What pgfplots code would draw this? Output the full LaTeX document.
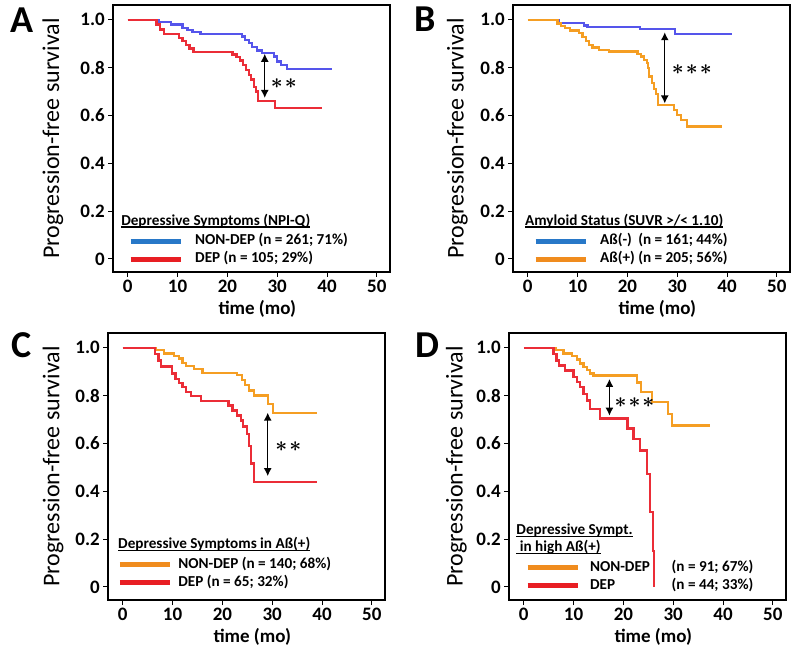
\documentclass[border=0pt]{standalone}
\usepackage{fontspec}
\setmainfont{Carlito}
\usepackage{bm}
\usepackage{pgfplots}
\pgfplotsset{compat=1.18}
\usetikzlibrary{arrows.meta}

\definecolor{cblue}{RGB}{85,85,235}
\definecolor{lblue}{RGB}{40,120,200}
\definecolor{cred}{RGB}{235,45,55}
\definecolor{lred}{RGB}{232,30,35}
\definecolor{corange}{RGB}{245,158,35}
\definecolor{lorange}{RGB}{240,140,30}

\newcommand\ul[1]{\setbox0\hbox{#1}\rlap{\rule[-2.6pt]{\wd0}{1.2pt}}\box0}
\newcommand\legfont{\fontsize{15.2}{17}\selectfont\bfseries}
\newcommand\st{$\bm{\ast}$}
\newcommand\stars[1]{\fontsize{21}{21}\selectfont#1}
\tikzset{dbl/.style={{Latex[length=8pt,width=8pt]}-{Latex[length=8pt,width=8pt]}, line width=1.4pt}}

\pgfplotsset{
  km/.style={
    width=277pt, height=267pt, scale only axis,
    xmin=-2.9, xmax=52.7, ymin=-0.055, ymax=1.062,
    xtick={0,10,20,30,40,50},
    ytick={0,0.2,0.4,0.6,0.8,1},
    yticklabels={0,0.2,0.4,0.6,0.8,1.0},
    tick align=outside, xtick pos=bottom, ytick pos=left,
    major tick length=5pt,
    axis line style={line width=2.2pt},
    every tick/.style={black, line width=1pt},
    ticklabel style={font=\fontsize{19}{19}\selectfont\bfseries},
    /pgf/number format/assume math mode=true,
    xlabel={time (mo)},
    xlabel style={font=\fontsize{19}{19}\selectfont\bfseries, at={(axis description cs:0.52,-0.14)}, anchor=center},
    ylabel={Progression-free survival},
    ylabel style={font=\fontsize{24}{24}\selectfont, anchor=center},
    legend image code/.code={\draw[line width=5pt] (0pt,0pt) -- (50pt,0pt);},
    legend style={draw=none, fill=none, inner sep=0pt, row sep=2.5pt, column sep=12pt,
      font=\legfont, nodes={inner sep=0pt, text height=11.5pt, text depth=4pt}},
    legend cell align=left,
    curve/.style={const plot mark left, line width=2.3pt, forget plot},
  }
}

\begin{document}
\begin{tikzpicture}
\path[use as bounding box] (0,0) rectangle (800pt,656pt);

% ---------------- A ----------------
\begin{axis}[km, at={(113.3pt,384pt)}, anchor=south west,
  ylabel style={at={(axis description cs:-0.218,0.5)}},
  legend style={at={(axis description cs:0.053,0.082)}, anchor=west}]
\addplot[curve, cblue] coordinates {
(0,1) (6.2,0.99) (8.7,0.98) (11.0,0.967) (12.0,0.957) (13.0,0.948) (14.6,0.941)
(22.9,0.93) (23.6,0.916) (24.3,0.902) (24.9,0.886) (25.9,0.872) (26.9,0.862)
(29.3,0.846) (30.0,0.826) (30.7,0.81) (32.0,0.794) (41.0,0.794)};
\addplot[curve, cred] coordinates {
(0,1) (5.8,0.98) (6.5,0.96) (7.3,0.94) (10.3,0.925) (11.0,0.91) (11.7,0.895)
(12.4,0.88) (13.2,0.865) (21.0,0.855) (21.8,0.845) (22.5,0.83) (23.2,0.81)
(23.8,0.79) (24.3,0.77) (24.8,0.75) (25.3,0.72) (25.7,0.70) (26.1,0.66)
(29.6,0.63) (39.0,0.63)};
\addlegendimage{lblue}
\addlegendentry{NON-DEP (n = 261; 71\%)}
\addlegendimage{lred}
\addlegendentry{DEP (n = 105; 29\%)}
\draw[dbl] (axis cs:27.5,0.858) -- (axis cs:27.5,0.673);
\node[anchor=west, inner sep=0] at (axis cs:28.7,0.735) {\stars{\st\hspace{2pt}\st}};
\node[anchor=base west, inner sep=0, font=\legfont] at (axis description cs:0.028,0.176) {\ul{Depressive Symptoms (NPI-Q)}};
\end{axis}

% ---------------- B ----------------
\begin{axis}[km, at={(513.3pt,384pt)}, anchor=south west,
  ylabel style={at={(axis description cs:-0.202,0.5)}},
  legend style={at={(axis description cs:0.071,0.082)}, anchor=west}]
\addplot[curve, cblue] coordinates {
(0,1) (6.2,0.987) (11.3,0.976) (12.0,0.97) (22.5,0.962) (29.5,0.942) (41.0,0.942)};
\addplot[curve, corange] coordinates {
(0,1) (6.0,0.985) (6.7,0.975) (7.5,0.965) (8.5,0.955) (10.3,0.944) (11.0,0.928)
(11.7,0.911) (12.3,0.895) (13.0,0.884) (14.3,0.875) (16.3,0.867) (22.0,0.858)
(22.7,0.846) (23.3,0.832) (23.9,0.818) (24.1,0.797) (24.4,0.763) (24.9,0.735)
(25.3,0.71) (25.7,0.69) (26.1,0.644) (29.3,0.624) (30.0,0.603) (30.7,0.582)
(32.0,0.554) (39.0,0.554)};
\addlegendimage{lblue}
\addlegendentry{\rlap{Aß(-)}\phantom{Aß(+)}\ (n = 161; 44\%)}
\addlegendimage{lorange}
\addlegendentry{Aß(+) (n = 205; 56\%)}
\draw[dbl] (axis cs:27.5,0.948) -- (axis cs:27.5,0.65);
\node[anchor=west, inner sep=0] at (axis cs:28.9,0.79) {\stars{\st\hspace{2pt}\st\hspace{2pt}\st}};
\node[anchor=base west, inner sep=0, font=\legfont] at (axis description cs:0.042,0.176) {\ul{Amyloid Status (SUVR >/< 1.10)}};
\end{axis}

% ---------------- C ----------------
\begin{axis}[km, at={(108.3pt,56pt)}, anchor=south west,
  ylabel style={at={(axis description cs:-0.199,0.5)}},
  legend style={at={(axis description cs:0.032,0.0975)}, anchor=west, column sep=6pt}]
\addplot[curve, corange] coordinates {
(0,1) (6.7,0.99) (8.3,0.976) (10.3,0.965) (11.3,0.955) (12.0,0.937) (12.7,0.923)
(14.3,0.912) (16.0,0.896) (23.0,0.885) (24.0,0.864) (24.6,0.843) (25.3,0.822)
(26.3,0.801) (29.2,0.766) (30.2,0.728) (39.0,0.728)};
\addplot[curve, cred] coordinates {
(0,1) (6.5,0.975) (7.2,0.947) (7.7,0.922) (9.9,0.892) (10.6,0.871) (11.3,0.853)
(12.0,0.836) (12.7,0.815) (13.7,0.797) (15.7,0.777) (21.2,0.759) (22.0,0.738)
(23.0,0.717) (23.7,0.696) (24.1,0.671) (25.0,0.64) (25.4,0.59) (25.8,0.516)
(26.3,0.44) (39.0,0.44)};
\addlegendimage{lorange}
\addlegendentry{NON-DEP (n = 140; 68\%)}
\addlegendimage{lred}
\addlegendentry{DEP (n = 65; 32\%)}
\draw[dbl] (axis cs:29.1,0.729) -- (axis cs:29.1,0.463);
\node[anchor=west, inner sep=0] at (axis cs:30.6,0.588) {\stars{\st\hspace{2pt}\st}};
\node[anchor=base west, inner sep=0, font=\legfont] at (axis description cs:0.035,0.193) {\ul{Depressive Symptoms in Aß(+)}};
\end{axis}

% ---------------- D ----------------
\begin{axis}[km, at={(509.3pt,56pt)}, anchor=south west,
  ylabel style={at={(axis description cs:-0.191,0.5)}},
  legend style={at={(axis description cs:0.056,0.0875)}, anchor=west, column sep=10pt}]
\addplot[curve, corange] coordinates {
(0,1) (6.5,0.99) (8.0,0.976) (9.7,0.965) (10.7,0.951) (11.3,0.934) (12.0,0.92)
(12.7,0.906) (13.3,0.892) (14.0,0.884) (22.7,0.855) (23.5,0.815) (25.7,0.773)
(29.0,0.724) (29.7,0.675) (37.3,0.675)};
\addplot[curve, cred] coordinates {
(0,1) (6.0,0.975) (6.6,0.947) (7.1,0.926) (8.3,0.905) (10.0,0.877) (10.7,0.857)
(11.3,0.835) (12.0,0.807) (12.7,0.779) (13.3,0.744) (15.3,0.704) (20.8,0.662)
(22.0,0.62) (23.3,0.571) (24.7,0.473) (25.3,0.312) (26.0,0.151) (26.2,0)};
\addlegendimage{lorange}
\addlegendentry{\makebox[81.7pt][l]{NON-DEP}(n = 91; 67\%)}
\addlegendimage{lred}
\addlegendentry{\makebox[81.7pt][l]{DEP}(n = 44; 33\%)}
\draw[dbl] (axis cs:17.2,0.87) -- (axis cs:17.2,0.716);
\node[anchor=west, inner sep=0] at (axis cs:18.2,0.77) {\stars{\st\hspace{2pt}\st\hspace{2pt}\st}};
\node[anchor=base west, inner sep=0, font=\legfont] at (axis description cs:0.025,0.244) {\ul{Depressive Sympt.}};
\node[anchor=base west, inner sep=0, font=\legfont] at (axis description cs:0.025,0.181) {\ul{\ in high Aß(+)}};
\end{axis}

% panel letters
\node[anchor=base west, inner sep=0, font=\fontsize{38}{38}\selectfont\bfseries] at (10pt,623pt) {A};
\node[anchor=base west, inner sep=0, font=\fontsize{38}{38}\selectfont\bfseries] at (414pt,624pt) {B};
\node[anchor=base west, inner sep=0, font=\fontsize{38}{38}\selectfont\bfseries] at (11pt,298pt) {C};
\node[anchor=base west, inner sep=0, font=\fontsize{38}{38}\selectfont\bfseries] at (415pt,298pt) {D};
\end{tikzpicture}
\end{document}
